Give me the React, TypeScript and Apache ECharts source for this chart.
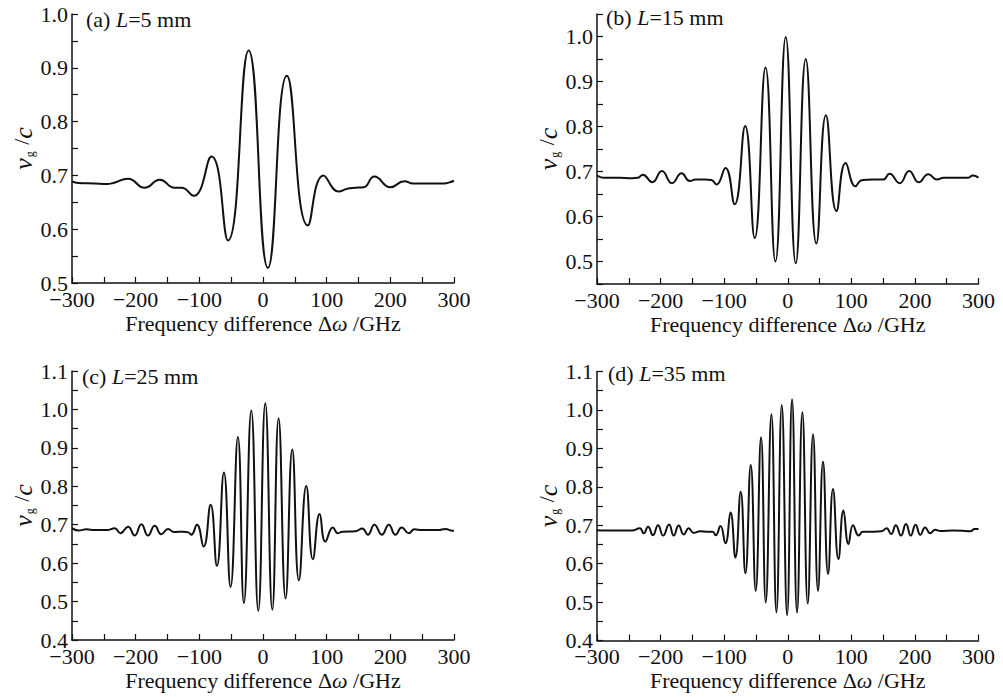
import React, { useEffect, useRef } from "react";
import * as echarts from "echarts";

const FONT = "Liberation Serif";

// Panel (a) L = 5 mm
const freqA = [-300, -290, -265, -245, -235, -212, -186, -162, -139, -128, -109, -81, -55, -22.6, 7.7, 37.5, 70.5, 95, 119, 132, 145, 158, 175, 200, 222, 236, 260, 285, 293, 300];
const vgA = [0.689, 0.686, 0.685, 0.684, 0.686, 0.694, 0.677, 0.692, 0.677, 0.677, 0.662, 0.735, 0.579, 0.932, 0.528, 0.885, 0.607, 0.700, 0.670, 0.675, 0.677, 0.678, 0.698, 0.678, 0.689, 0.685, 0.685, 0.685, 0.687, 0.690];

// Panel (b) L = 15 mm
const freqB = [-300, -290, -265, -245, -236, -228, -213, -198, -182, -167, -154, -145, -130, -120, -112, -98, -83.6, -67, -52, -35, -19.4, -3.2, 12.6, 28.3, 45, 60, 76.6, 91, 106.5, 115, 120, 135, 150, 160, 176, 191, 206, 221, 235, 245, 270, 283, 291, 300];
const vgB = [0.691, 0.686, 0.686, 0.685, 0.686, 0.693, 0.676, 0.701, 0.674, 0.696, 0.679, 0.682, 0.682, 0.681, 0.671, 0.708, 0.627, 0.801, 0.552, 0.931, 0.500, 0.999, 0.496, 0.950, 0.540, 0.825, 0.612, 0.719, 0.667, 0.680, 0.681, 0.682, 0.682, 0.695, 0.674, 0.701, 0.676, 0.694, 0.682, 0.686, 0.686, 0.686, 0.691, 0.686];

// Panel (c) L = 25 mm
const freqC = [-300, -290, -277, -265, -245, -233, -224, -212, -201.6, -191, -180.7, -170, -159.7, -149, -140, -125, -117, -112.6, -103.8, -93.3, -82.3, -72.4, -61.4, -51, -39.4, -30, -18.4, -7.4, 3.6, 14.6, 24.5, 35.5, 46, 56.4, 68, 78.3, 89, 98, 109.8, 117.6, 125, 145, 155.9, 164.7, 175, 186.7, 197.6, 208, 218, 229, 238, 250, 275, 286.7, 295, 300];
const vgC = [0.691, 0.685, 0.688, 0.686, 0.686, 0.691, 0.678, 0.695, 0.672, 0.701, 0.672, 0.697, 0.675, 0.689, 0.681, 0.682, 0.680, 0.674, 0.700, 0.643, 0.752, 0.593, 0.836, 0.538, 0.928, 0.496, 0.997, 0.476, 1.016, 0.479, 0.977, 0.508, 0.896, 0.555, 0.801, 0.610, 0.728, 0.656, 0.693, 0.678, 0.682, 0.683, 0.690, 0.674, 0.700, 0.674, 0.700, 0.674, 0.693, 0.678, 0.688, 0.686, 0.686, 0.689, 0.685, 0.684];

// Panel (d) L = 35 mm
const freqD = [-300, -285, -260, -245, -232.8, -226.5, -219.7, -212, -204, -196, -186.7, -179.3, -171.5, -163.6, -155.7, -147.9, -138, -125, -118, -113.3, -105.9, -98, -90, -82.3, -74, -66.6, -58.2, -50.4, -42, -34.6, -25.7, -17.8, -9.4, -1, 6.8, 14.6, 23, 31.4, 39.8, 47.6, 55.5, 63.4, 71.2, 79.7, 87.6, 95.5, 102.7, 111.7, 118, 135, 147, 155.5, 162.5, 170, 178, 186, 193.5, 201, 208.5, 216, 224, 232, 240, 260, 280, 287, 294, 300];
const vgD = [0.687, 0.686, 0.686, 0.686, 0.692, 0.679, 0.696, 0.674, 0.700, 0.673, 0.702, 0.673, 0.699, 0.676, 0.692, 0.680, 0.684, 0.683, 0.683, 0.674, 0.698, 0.653, 0.733, 0.616, 0.787, 0.575, 0.857, 0.529, 0.929, 0.499, 0.989, 0.473, 1.013, 0.466, 1.028, 0.473, 0.994, 0.496, 0.937, 0.529, 0.865, 0.573, 0.794, 0.612, 0.738, 0.651, 0.700, 0.673, 0.683, 0.683, 0.684, 0.692, 0.677, 0.700, 0.673, 0.703, 0.673, 0.701, 0.675, 0.694, 0.679, 0.688, 0.685, 0.686, 0.685, 0.684, 0.690, 0.690];

const panelTags = ["(a)", "(b)", "(c)", "(d)"];
const panelLengths = ["5", "15", "25", "35"];
const yRanges = [
  [0.5, 1.0],
  [0.45, 1.05],
  [0.4, 1.1],
  [0.4, 1.1],
];
const xRange = [-300, 300];

const grids = [
  { left: 72, top: 14, width: 382, height: 269 },
  { left: 597, top: 14, width: 381.5, height: 270 },
  { left: 72, top: 371, width: 382, height: 269 },
  { left: 597, top: 371.5, width: 381.5, height: 269 },
];
const titlePos = [
  [86, 20],
  [606, 18],
  [82, 377],
  [608, 374],
];

export default function App() {
  const ref = useRef<HTMLDivElement>(null);
  useEffect(() => {
    if (!ref.current) return;
    const chart = echarts.init(ref.current, null, { renderer: "svg" });
    const datasets = [
      [freqA, vgA],
      [freqB, vgB],
      [freqC, vgC],
      [freqD, vgD],
    ];
    const axisLine = { show: true, onZero: false, lineStyle: { color: "#111", width: 1.5 } };
    const xAxis: any[] = [];
    const yAxis: any[] = [];
    const series: any[] = [];
    const graphic: any[] = [];
    grids.forEach((g, i) => {
      xAxis.push({
        gridIndex: i,
        type: "value",
        min: xRange[0],
        max: xRange[1],
        interval: 50,
        axisLine,
        axisTick: { show: true, inside: true, length: 6, lineStyle: { color: "#111", width: 1.2 } },
        splitLine: { show: false },
        axisLabel: {
          margin: 8,
          lineHeight: 16,
          color: "#111",
          fontFamily: FONT,
          fontSize: 22,
          formatter: (v: number) => (Math.round(v) % 100 === 0 ? (v < 0 ? "\u2212" + Math.abs(v) : String(v)) : ""),
        },
        name: "Frequency difference \u0394{i|\u03c9} /GHz",
        nameLocation: "middle",
        nameGap: 29,
        nameTextStyle: {
          color: "#111",
          fontFamily: FONT,
          fontSize: 22,
          rich: { i: { fontStyle: "italic", fontFamily: FONT, fontSize: 22, color: "#111" } },
        },
      });
      yAxis.push({
        gridIndex: i,
        type: "value",
        min: yRanges[i][0],
        max: yRanges[i][1],
        interval: 0.05,
        axisLine,
        axisTick: { show: true, inside: true, length: 6, lineStyle: { color: "#111", width: 1.2 } },
        splitLine: { show: false },
        axisLabel: {
          margin: 4,
          lineHeight: 16,
          color: "#111",
          fontFamily: FONT,
          fontSize: 22,
          formatter: (v: number) => (Math.round(v * 100) % 10 === 0 ? v.toFixed(1) : ""),
        },
        name: "{i|v}{s|g}{n| /}{i|c}",
        nameLocation: "middle",
        nameGap: 36,
        nameTextStyle: {
          color: "#111",
          fontFamily: FONT,
          fontSize: 22,
          rich: {
            i: { fontStyle: "italic", fontFamily: FONT, fontSize: 26, color: "#111", lineHeight: 26, verticalAlign: "top" },
            n: { fontFamily: FONT, fontSize: 22, color: "#111", lineHeight: 26, verticalAlign: "top" },
            s: { fontFamily: FONT, fontSize: 12, color: "#111", lineHeight: 12, padding: [18, 1, 0, 1], verticalAlign: "bottom" },
          },
        },
      });
      const [fx, fy] = datasets[i];
      series.push({
        type: "line",
        xAxisIndex: i,
        yAxisIndex: i,
        data: fx.map((x, k) => [x, fy[k]]),
        smooth: 0.5,
        showSymbol: false,
        lineStyle: { color: "#111", width: 2 },
      });
      graphic.push({
        type: "text",
        left: titlePos[i][0],
        top: titlePos[i][1] - 12,
        style: {
          text: panelTags[i] + " {i|L}=" + panelLengths[i] + " mm",
          fontFamily: FONT,
          fontSize: 22,
          fill: "#111",
          rich: { i: { fontStyle: "italic", fontFamily: FONT, fontSize: 22, fill: "#111" } },
        },
      });
    });
    chart.setOption({
      animation: false,
      backgroundColor: "#fff",
      grid: grids.map((g) => ({ ...g, containLabel: false })),
      xAxis,
      yAxis,
      series,
      graphic,
    });
    return () => chart.dispose();
  }, []);
  return <div ref={ref} style={{ position: "fixed", left: 0, top: 0, width: 1003, height: 697, background: "#fff" }} />;
}
